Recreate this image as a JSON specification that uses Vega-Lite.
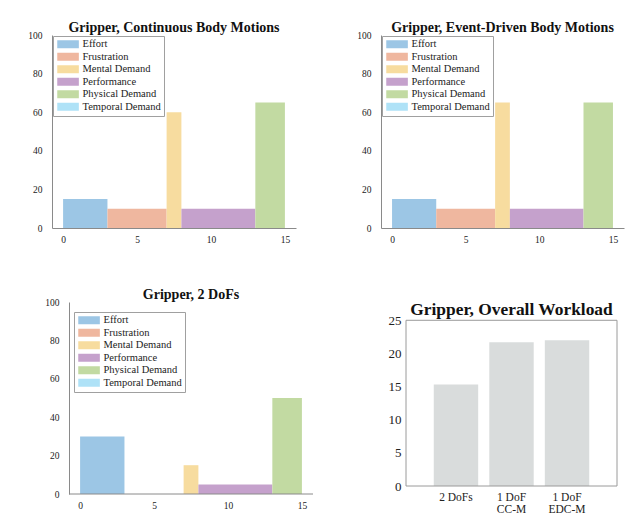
{
  "$schema": "https://vega.github.io/schema/vega-lite/v6.json",
  "background": "white",
  "padding": {"left": 27, "top": 21, "right": 5, "bottom": 5},
  "config": {
    "font": "Liberation Serif",
    "view": {"stroke": null},
    "axis": {"labelFont": "Liberation Serif", "labelColor": "#222", "domainColor": "#8a8a8a", "tickColor": "#8a8a8a", "grid": false, "title": null, "ticks": false, "labelOverlap": false},
    "title": {"font": "Liberation Serif", "fontWeight": "bold", "fontSize": 14, "color": "#111", "offset": -5},
    "legend": {"title": null, "symbolType": "M-1,-1H4.4V1H-1Z", "symbolSize": 64, "symbolStrokeWidth": 0, "symbolOpacity": 1, "labelFont": "Liberation Serif", "labelFontSize": 10.5, "labelColor": "#222", "strokeColor": "#a0a0a0", "fillColor": "white", "padding": 3, "rowPadding": 1.5, "labelOffset": 16}
  },
  "spacing": 44,
  "resolve": {"scale": {"color": "independent"}, "legend": {"color": "independent"}},
  "vconcat": [
    {
      "spacing": 60,
      "resolve": {"scale": {"color": "independent"}, "legend": {"color": "independent"}},
      "hconcat": [
        {
          "width": 244, "height": 193,
          "title": "Gripper, Continuous Body Motions",
          "data": {"values": [
            {"task": "Effort", "start": 0, "end": 3, "rating": 15},
            {"task": "Frustration", "start": 3, "end": 7, "rating": 10},
            {"task": "Mental Demand", "start": 7, "end": 8, "rating": 60},
            {"task": "Performance", "start": 8, "end": 13, "rating": 10},
            {"task": "Physical Demand", "start": 13, "end": 15, "rating": 65},
            {"task": "Temporal Demand", "start": 15, "end": 15, "rating": 0}
          ]},
          "mark": {"type": "bar"},
          "encoding": {
            "x": {"field": "start", "type": "quantitative", "scale": {"domain": [-0.75, 15.75], "nice": false, "zero": false}, "axis": {"values": [0, 5, 10, 15], "labelFontSize": 9.5, "labelPadding": 6}},
            "x2": {"field": "end"},
            "y": {"field": "rating", "type": "quantitative", "scale": {"domain": [0, 100], "nice": false}, "axis": {"values": [0, 20, 40, 60, 80, 100], "labelFontSize": 9.5, "labelPadding": 10}},
            "y2": {"datum": 0},
            "color": {"field": "task", "type": "nominal",
              "scale": {"domain": ["Effort", "Frustration", "Mental Demand", "Performance", "Physical Demand", "Temporal Demand"], "range": ["#9cc6e5", "#efb79f", "#f7dc9f", "#c5a1cc", "#c2daa2", "#afe2f7"]},
              "legend": {"orient": "none", "legendX": 1, "legendY": 1}}
          }
        },
        {
          "width": 243, "height": 193,
          "title": "Gripper, Event-Driven Body Motions",
          "data": {"values": [
            {"task": "Effort", "start": 0, "end": 3, "rating": 15},
            {"task": "Frustration", "start": 3, "end": 7, "rating": 10},
            {"task": "Mental Demand", "start": 7, "end": 8, "rating": 65},
            {"task": "Performance", "start": 8, "end": 13, "rating": 10},
            {"task": "Physical Demand", "start": 13, "end": 15, "rating": 65},
            {"task": "Temporal Demand", "start": 15, "end": 15, "rating": 0}
          ]},
          "mark": {"type": "bar"},
          "encoding": {
            "x": {"field": "start", "type": "quantitative", "scale": {"domain": [-0.75, 15.75], "nice": false, "zero": false}, "axis": {"values": [0, 5, 10, 15], "labelFontSize": 9.5, "labelPadding": 6}},
            "x2": {"field": "end"},
            "y": {"field": "rating", "type": "quantitative", "scale": {"domain": [0, 100], "nice": false}, "axis": {"values": [0, 20, 40, 60, 80, 100], "labelFontSize": 9.5, "labelPadding": 10}},
            "y2": {"datum": 0},
            "color": {"field": "task", "type": "nominal",
              "scale": {"domain": ["Effort", "Frustration", "Mental Demand", "Performance", "Physical Demand", "Temporal Demand"], "range": ["#9cc6e5", "#efb79f", "#f7dc9f", "#c5a1cc", "#c2daa2", "#afe2f7"]},
              "legend": {"orient": "none", "legendX": 1, "legendY": 1}}
          }
        }
      ]
    },
    {
      "spacing": 74,
      "resolve": {"scale": {"color": "independent"}, "legend": {"color": "independent"}},
      "hconcat": [
        {
          "width": 261, "height": 192,
          "title": {"text": "Gripper, 2 DoFs", "dx": 8.5},
          "data": {"values": [
            {"task": "Effort", "start": 0, "end": 3, "rating": 30},
            {"task": "Frustration", "start": 3, "end": 7, "rating": 0},
            {"task": "Mental Demand", "start": 7, "end": 8, "rating": 15},
            {"task": "Performance", "start": 8, "end": 13, "rating": 5},
            {"task": "Physical Demand", "start": 13, "end": 15, "rating": 50},
            {"task": "Temporal Demand", "start": 15, "end": 15, "rating": 0}
          ]},
          "layer": [
            {
              "mark": {"type": "bar"},
              "encoding": {
                "x": {"field": "start", "type": "quantitative", "scale": {"domain": [-1.9, 15.75], "nice": false, "zero": false}, "axis": {"values": [0, 5, 10, 15], "labelFontSize": 9.5, "labelPadding": 6, "domain": false}},
                "x2": {"field": "end"},
                "y": {"field": "rating", "type": "quantitative", "scale": {"domain": [0, 100], "nice": false}, "axis": {"values": [0, 20, 40, 60, 80, 100], "labelFontSize": 9.5, "labelPadding": 10, "offset": -17}},
                "y2": {"datum": 0},
                "color": {"field": "task", "type": "nominal",
                  "scale": {"domain": ["Effort", "Frustration", "Mental Demand", "Performance", "Physical Demand", "Temporal Demand"], "range": ["#9cc6e5", "#efb79f", "#f7dc9f", "#c5a1cc", "#c2daa2", "#afe2f7"]},
                  "legend": {"orient": "none", "legendX": 22, "legendY": 10}}
              }
            },
            {
              "data": {"values": [{}]},
              "mark": {"type": "rule", "color": "#8a8a8a", "strokeWidth": 1},
              "encoding": {
                "x": {"datum": -0.75, "type": "quantitative", "axis": {"values": [0, 5, 10, 15], "labelFontSize": 9.5, "labelPadding": 6, "domain": false}},
                "x2": {"datum": 15.75},
                "y": {"datum": 0, "type": "quantitative", "axis": {"values": [0, 20, 40, 60, 80, 100], "labelFontSize": 9.5, "labelPadding": 10, "offset": -17}}
              }
            }
          ]
        },
        {
          "width": 211, "height": 184,
          "title": {"text": "Gripper, Overall Workload", "fontSize": 17.4, "offset": -16},
          "data": {"values": [
            {"config": "2 DoFs", "workload": 15.33},
            {"config": "1 DoF CC-M", "workload": 21.67},
            {"config": "1 DoF EDC-M", "workload": 22.0}
          ]},
          "layer": [
            {
              "mark": {"type": "bar", "color": "#d9dcdc"},
              "encoding": {
                "x": {"field": "config", "type": "nominal", "sort": null, "scale": {"paddingInner": 0.2, "paddingOuter": 0.5},
                  "axis": {"labelAngle": 0, "labelFontSize": 11.5, "labelPadding": 5, "labelLineHeight": 12.5, "domain": false,
                    "labelExpr": "length(datum.value) > 6 ? [slice(datum.value, 0, 5), slice(datum.value, 6)] : datum.value"}},
                "y": {"field": "workload", "type": "quantitative", "scale": {"domain": [0, 27.76], "nice": false}, "axis": {"values": [0, 5, 10, 15, 20, 25], "labelFontSize": 13, "labelPadding": 5, "domain": false}}
              }
            },
            {
              "data": {"values": [{}]},
              "mark": {"type": "rect", "fill": "transparent", "stroke": "#9a9a9a", "strokeWidth": 1},
              "encoding": {
                "x": {"datum": 0, "type": "quantitative", "scale": {"domain": [0, 1], "nice": false}, "axis": null},
                "x2": {"datum": 1},
                "y": {"datum": 0, "type": "quantitative", "axis": {"values": [0, 5, 10, 15, 20, 25], "labelFontSize": 13, "labelPadding": 5, "domain": false}},
                "y2": {"datum": 25}
              }
            }
          ],
          "resolve": {"scale": {"x": "independent"}}
        }
      ]
    }
  ]
}
